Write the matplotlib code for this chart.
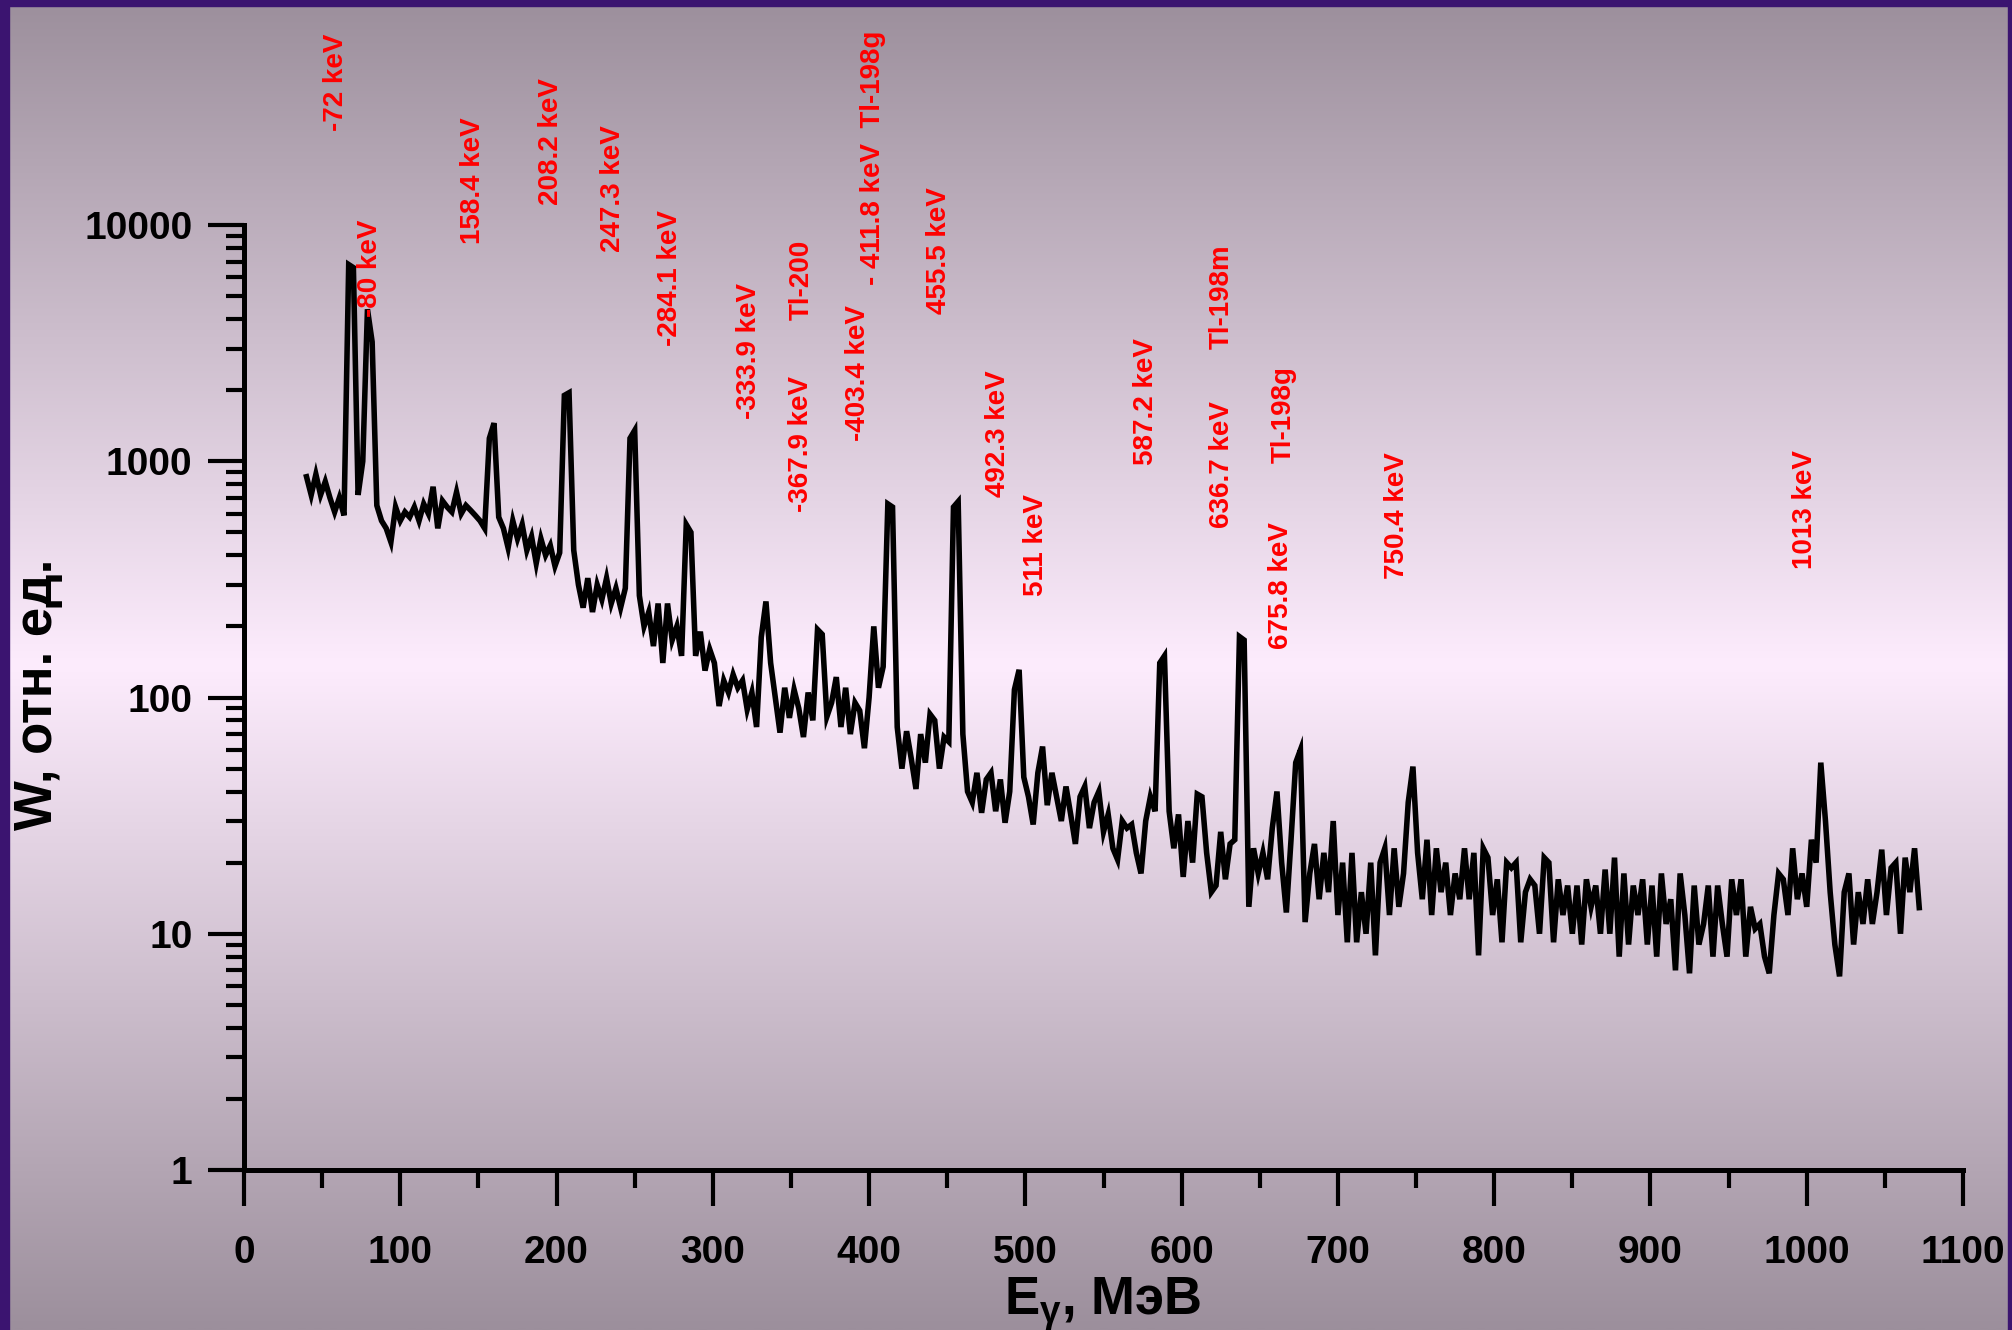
import numpy as np
import matplotlib
matplotlib.use('Agg')
import matplotlib.pyplot as plt
from matplotlib.patches import Rectangle
from matplotlib.ticker import LogLocator, MultipleLocator, NullFormatter

plt.rcParams['mathtext.fontset'] = 'custom'
plt.rcParams['mathtext.rm'] = 'Liberation Sans:bold'
plt.rcParams['mathtext.default'] = 'regular'

# --- spectrum (energy in keV, intensity in rel. units) ---
energy_a = [40, 43, 46, 49, 52, 55, 58, 61, 64, 67,
            70, 73, 76, 79, 82, 85, 88, 91, 94, 97, 100]
counts_a = [860, 720, 880, 720, 820, 700, 610, 700, 590, 6800,
            6600, 720, 1000, 4400, 3200, 650, 560, 520, 455, 640, 560]

energy_b = [103, 106, 109, 112, 115, 118, 121, 124, 127, 130,
            133, 136, 139, 142, 145, 148, 151, 154, 157, 160,
            163, 166, 169, 172, 175, 178, 181, 184, 187, 190,
            193, 196, 199, 202, 205, 208, 211, 214, 217, 220,
            223, 226, 229, 232, 235, 238, 241, 244, 247, 250,
            253, 256, 259, 262, 265, 268, 271, 274, 277, 280,
            283, 286, 289, 292, 295, 298, 301, 304]
counts_b = [610, 580, 640, 560, 660, 600, 780, 520, 680, 640,
            610, 740, 600, 650, 620, 590, 560, 520, 1250, 1450,
            580, 520, 430, 560, 470, 540, 420, 480, 370, 470,
            400, 440, 360, 410, 1900, 1950, 420, 300, 240, 320,
            230, 300, 260, 320, 250, 290, 240, 290, 1250, 1350,
            270, 200, 230, 165, 250, 140, 250, 175, 200, 150,
            540, 500, 150, 190, 130, 160, 140, 92]

energy_c = [307, 310, 313, 316, 319, 322, 325, 328, 331, 334,
            337, 340, 343, 346, 349, 352, 355, 358, 361, 364,
            367, 370, 373, 376, 379, 382, 385, 388, 391, 394,
            397, 400, 403, 406, 409, 412, 415, 418, 421, 424,
            427, 430, 433, 436, 439, 442, 445, 448, 451, 454,
            457, 460]
counts_c = [118, 105, 125, 110, 118, 89, 105, 75, 180, 255,
            140, 100, 71, 110, 82, 108, 90, 68, 105, 80,
            194, 185, 83, 95, 122, 75, 110, 70, 95, 88,
            61, 100, 200, 110, 135, 660, 640, 75, 50, 72,
            55, 41, 70, 53, 85, 80, 50, 68, 65, 640,
            675, 70]

energy_d = [463, 466, 469, 472, 475, 478, 481, 484, 487, 490,
            493, 496, 499, 502, 505, 508, 511, 514, 517, 520,
            523, 526, 529, 532, 535, 538, 541, 544, 547, 550,
            553, 556, 559, 562, 565, 568, 571, 574, 577, 580,
            583, 586, 589, 592, 595, 598, 601, 604, 607, 610,
            613, 616, 619, 622, 625, 628, 631, 634, 637, 640]
counts_d = [40, 36, 48, 32.5, 45, 48, 33, 45, 29.5, 40,
            108, 131, 46, 38, 29, 48, 62, 35, 48, 38,
            30, 42, 32, 24, 38, 42, 28, 36, 40, 27,
            32, 23, 20.6, 30, 28, 29, 22, 18, 30, 38,
            33, 140, 150, 33, 23, 32, 17.4, 30, 20, 39,
            38, 22, 15, 16, 27, 17, 24, 25, 181, 175]

energy_e = [643, 646, 649, 652, 655, 658, 661, 664, 667, 670,
            673, 676, 679, 682, 685, 688, 691, 694, 697, 700,
            703, 706, 709, 712, 715, 718, 721, 724, 727, 730,
            733, 736, 739, 742, 745, 748, 751, 754, 757, 760,
            763, 766, 769, 772, 775, 778, 781, 784, 787, 790,
            793, 796, 799, 802, 805, 808, 811, 814, 817, 820,
            823, 826, 829, 832, 835, 838, 841, 844, 847, 850,
            853, 856, 859, 862, 865, 868, 871, 874, 877, 880,
            883, 886, 889, 892, 895, 898, 901, 904, 907, 910,
            913, 916, 919, 922, 925, 928, 931, 934, 937, 940,
            943, 946, 949, 952, 955, 958, 961, 964, 967, 970,
            973, 976, 979, 982, 985, 988, 991, 994, 997, 1000,
            1003, 1006, 1009, 1012, 1015, 1018, 1021, 1024, 1027, 1030,
            1033, 1036, 1039, 1042, 1045, 1048, 1051, 1054, 1057, 1060,
            1063, 1066, 1069, 1072]
counts_e = [13, 23, 18, 22, 17, 28, 40, 20, 12.3, 25,
            53, 60, 11.2, 18, 24, 14, 22, 15, 30, 12,
            20, 9.2, 22, 9.2, 15, 10, 20, 8.1, 20, 23,
            12, 23, 13, 18, 36, 51, 22, 14, 25, 12,
            23, 15, 20, 12, 18, 14, 23, 14, 22, 8.1,
            23, 21, 12, 17, 9.2, 20, 19, 20, 9.2, 15,
            17, 16, 10, 21, 20, 9.2, 17, 12, 16, 10,
            16, 9, 17, 13, 16, 10, 18.7, 10, 21, 8,
            18, 9, 16, 12, 17, 9, 16, 8, 18, 11,
            14, 7, 18, 12, 6.8, 16, 9, 11, 16, 8,
            16, 11, 8, 17, 12, 17, 8, 13, 10.5, 11,
            8, 6.8, 12, 18, 17, 12, 23, 14, 18, 13,
            25, 20, 53, 30, 15, 9, 6.6, 15, 18, 9,
            15, 11, 17, 11, 15, 22.7, 12, 19, 20, 10,
            21, 15, 23, 12.9]

energy = energy_a + energy_b + energy_c + energy_d + energy_e
counts = counts_a + counts_b + counts_c + counts_d + counts_e
assert len(energy) == len(counts)

# peak annotations and where their lower end sits (keV, rel. units)
peak_labels = ['-72 keV', '-80 keV', '158.4 keV', '208.2 keV', '247.3 keV',
               '-284.1 keV', '-333.9 keV', 'Tl-200', '-367.9 keV', '-403.4 keV',
               '- 411.8 keV  Tl-198g', '455.5 keV', '492.3 keV', '511 keV',
               '587.2 keV', 'Tl-198m', '636.7 keV', 'Tl-198g', '675.8 keV',
               '750.4 keV', '1013 keV']
label_x = [58.9, 80.6, 146.5, 196.5, 236.4, 272.6, 323.2, 356.8, 356.5, 393.0,
           402.5, 444.7, 482.5, 506.9, 577.2, 625.8, 625.8, 665.5, 663.6,
           737.8, 998.9]
label_y = [25000, 4075, 8300, 12160, 7690, 3070, 1507, 3957, 608, 1216,
           5570, 4198, 704, 270, 962, 2985, 520, 981, 160, 316, 349]

x_ticks = list(range(0, 1101, 100))
y_ticks = [1, 10, 100, 1000, 10000]
y_ticklabels = ['1', '10', '100', '1000', '10000']

W, H = 2012, 1330
fig = plt.figure(figsize=(W / 100, H / 100), dpi=100)

# background: grey-violet at the edges, pale pink in the middle
bg = fig.add_axes([0, 0, 1, 1], zorder=0)
c_edge = np.array([0x9c, 0x8f, 0x9c]) / 255
c_mid = np.array([0xfd, 0xec, 0xfd]) / 255
t = np.abs(np.linspace(-1, 1, 400))[:, None]
grad = (c_mid * (1 - t) + c_edge * t)[:, None, :]
bg.imshow(grad, aspect='auto', extent=[0, 1, 0, 1], interpolation='bilinear')
bg.axis('off')

frame = '#3b1470'
for x0, y0, w, h in [(0, 0, 9 / W, 1), (0, 1 - 6 / H, 1, 6 / H), (1 - 4 / W, 0, 4 / W, 1)]:
    fig.add_artist(Rectangle((x0, y0), w, h, transform=fig.transFigure,
                             color=frame, zorder=5))

ax = fig.add_axes([244 / W, 1 - 1170 / H, (1963 - 244) / W, (1170 - 225) / H], zorder=1)
ax.set_facecolor('none')
ax.set_yscale('log')
ax.plot(energy, counts, color='black', lw=4.0, solid_joinstyle='miter')
ax.set_xlim(0, 1100)
ax.set_ylim(1, 10000)

for side in ['top', 'right']:
    ax.spines[side].set_visible(False)
for side in ['left', 'bottom']:
    ax.spines[side].set_linewidth(3.6)

tick_font = {'family': 'Liberation Sans', 'weight': 'bold', 'size': 28}
ax.set_xticks(x_ticks)
ax.set_xticklabels([str(v) for v in x_ticks], fontdict=tick_font)
ax.xaxis.set_minor_locator(MultipleLocator(50))
ax.set_yticks(y_ticks)
ax.set_yticklabels(y_ticklabels, fontdict=tick_font)
ax.yaxis.set_minor_locator(LogLocator(base=10, subs=np.arange(2, 10)))
ax.yaxis.set_minor_formatter(NullFormatter())
ax.tick_params(which='major', length=26, width=3, direction='out', color='black')
ax.tick_params(which='minor', length=13, width=3, direction='out', color='black')
ax.tick_params(axis='x', which='major', pad=21)
ax.tick_params(axis='y', which='major', pad=11)

for s, x, y in zip(peak_labels, label_x, label_y):
    ax.text(x, y, s, rotation=90, ha='center', va='bottom', color='#ff0000',
            fontsize=20, fontweight='bold', family='Liberation Sans', clip_on=False)

fig.text(1103 / W, 1 - 1315 / H, r'E$_\gamma$, МэВ', ha='center', va='baseline',
         fontsize=38, fontweight='bold', family='Liberation Sans')
fig.text(38 / W, 1 - 694 / H, 'W, отн. ед.', rotation=90, ha='center', va='center',
         fontsize=38, fontweight='bold', family='Liberation Sans')

fig.savefig('out.png', dpi=100)
